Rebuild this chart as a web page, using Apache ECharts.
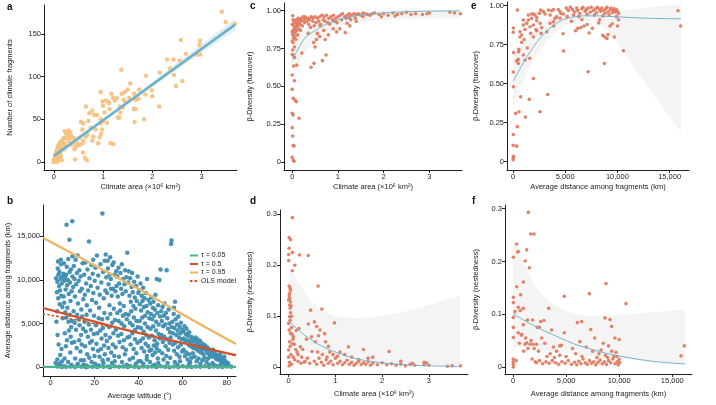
<!DOCTYPE html>
<html><head><meta charset="utf-8">
<script src="https://cdn.jsdelivr.net/npm/echarts@6/dist/echarts.min.js"></script>
<style>html,body{margin:0;padding:0;background:#fff}#c{width:716px;height:405px}</style>
</head><body><div id="c"></div>
<script>
// ---------- Panel a: climate area (x10^6 km2) vs number of climate fragments ----------
const aPoints = [[3.41,176],[3.49,164],[3.68,162],[2.97,142],[2.96,137],[2.58,143],[2.90,126],[2.97,126],[2.68,127],[2.61,95],[2.43,120],[2.55,119],[2.30,120],[2.36,110],[2.44,102],[2.48,89],[2.15,105],[2.14,65],[1.99,84],[2.0,77],[1.87,101],[1.86,79],[1.83,50],[1.66,73],[1.66,62],[1.62,62],[1.64,47],[1.73,85],[1.72,74],[1.63,80],[1.55,92],[1.50,85],[1.44,82],[1.37,108],[1.38,80],[1.42,73],[1.40,64],[1.35,58],[1.33,52],[1.28,75],[1.24,72],[1.20,75],[1.17,80],[1.12,69],[1.13,62],[1.10,71],[1.05,72],[0.95,82],[0.99,71],[1.0,66],[1.03,58],[1.08,46],[1.0,48],[0.95,50],[0.95,45],[0.98,38],[0.96,33],[0.93,29],[1.21,21],[1.30,52],[1.34,65],[1.45,70],[1.53,75],[0.88,55],[0.82,55],[0.78,60],[0.72,57],[0.65,65],[0.70,48],[0.75,40],[0.60,45],[0.55,47],[0.58,38],[0.80,30],[0.78,25],[0.65,30],[0.58,22],[0.52,20],[0.45,18],[0.42,15],[0.40,28],[0.35,31],[0.33,35],[0.30,37],[0.28,35],[0.25,33],[0.33,28],[0.30,25],[0.25,28],[0.20,28],[0.18,26],[0.15,24],[0.12,22],[0.10,20],[0.08,18],[0.07,15],[0.05,12],[0.04,10],[0.03,8],[0.02,5],[0.01,3],[0.0,2],[0.02,1],[0.05,2],[0.1,5],[0.08,8],[0.12,12],[0.15,16],[0.18,20],[0.22,22],[0.06,6],[0.03,4],[0.01,1],[0.04,3],[0.0,0],[0.14,7],[0.16,2],[0.43,3],[0.63,5],[0.67,2],[0.59,11],[0.52,28],[0.60,25],[0.68,32],[0.85,38],[0.90,22],[0.20,15],[0.25,18],[0.38,22],[0.28,30],[0.22,36],[0.35,20],[0.48,22],[0.13,10],[0.09,3],[0.11,13],[0.07,0],[1.15,22]];
const aFit = [[0,7],[3.68,161]];
const aBandX = [0,0.5,1,1.5,2,2.5,3,3.68];
const aBandLow = [3,25,47,68,88,108,128,154];
const aBandHigh = [11,31,51,72,94,116,138,168];

// ---------- Panel b: average latitude vs average distance among fragments (km) ----------
const bPoints = [
[2.5,10200],[3,9800],[3.2,11300],[3.5,10600],[3.8,9300],[4,10900],[4.2,8800],[4.5,10100],[4.7,11800],[5,9600],[5.2,10400],[2.8,8600],[3.4,7900],[4.1,7200],[4.8,8200],[5.3,6900],[2.6,5200],[3.1,3700],[3.6,2600],[4.3,1400],[4.9,2100],[2.2,500],[3,900],[3.9,400],[4.4,150],[5.1,650],[3.3,12100],[4.6,12300],[2.9,6400],[5.5,5600],
[5.8,10700],[6,11900],[6.2,9900],[6.5,10300],[6.8,8900],[7,10600],[7.2,16300],[7.3,11500],[7.5,9400],[7.8,10000],[8,12400],[8.2,8400],[8.5,14600],[8.6,10900],[8.8,9700],[9,7600],[9.2,11200],[9.5,8700],[9.8,16700],[9.9,10400],[6.1,7400],[6.6,6300],[7.1,5700],[7.6,6800],[8.1,5200],[8.7,6000],[9.3,4600],[9.7,5300],[6.4,3900],[7.4,3100],[8.3,4200],[9.1,3500],[6.9,2400],[8.9,1700],[9.6,2800],[6.3,1000],[7.9,600],[9.4,300],[5.9,8100],[9.9,12700],
[10.2,9200],[10.5,11600],[10.8,10100],[11,8100],[11.3,12300],[11.6,9500],[11.9,10800],[12.2,12800],[12.4,7300],[12.7,9900],[13,11100],[13.3,8700],[13.6,10400],[13.9,6600],[14.2,9000],[14.5,11900],[14.8,7800],[10.4,6400],[10.9,5100],[11.5,4300],[12,6000],[12.6,5500],[13.1,4800],[13.8,3700],[14.3,5800],[14.7,4400],[10.7,2900],[11.8,2200],[12.9,3100],[13.5,1800],[14.1,2600],[11.1,1000],[12.3,400],[13.7,800],[14.9,300],
[15.2,10600],[15.5,8300],[15.8,12000],[16.1,9600],[16.4,7100],[16.7,11200],[17,8800],[17.4,14400],[17.6,10200],[17.9,6500],[18.2,9300],[18.5,11700],[18.8,7700],[19.1,10700],[19.4,8500],[19.7,5900],[15.4,5200],[15.9,4100],[16.3,6000],[16.9,3500],[17.3,4900],[17.8,2800],[18.3,4300],[18.7,3000],[19.2,2100],[19.6,3800],[15.6,2400],[16.6,1500],[17.5,1100],[18.6,600],[19.9,1300],[15.1,800],[16,200],[19.3,12300],[20,9900],
[20.3,11400],[20.6,7400],[21,12800],[21.3,9100],[21.6,10500],[22,6800],[22.3,8300],[22.6,11800],[23,9700],[23.3,5500],[23.5,17600],[23.8,10900],[24.1,7900],[24.5,12200],[24.8,8800],[25,12900],[20.5,4800],[21.2,3900],[21.8,5600],[22.5,4200],[23.1,3300],[23.7,4500],[24.3,2500],[24.9,3700],[20.8,2700],[21.5,1900],[22.2,1200],[22.9,2100],[23.6,800],[24.6,1500],[20.2,400],[21.9,200],[23.9,500],[24.4,6200],[25.3,10300],
[25.6,8500],[26,11300],[26.3,9500],[26.7,7100],[27,12600],[27.3,10100],[27.7,8200],[28,11700],[28.3,9000],[28.7,6700],[29,10600],[29.4,8700],[29.8,11000],[25.8,5600],[26.5,4600],[27.1,6100],[27.9,5100],[28.5,3900],[29.2,5400],[29.6,4300],[25.5,3000],[26.2,2200],[26.9,3400],[27.5,1700],[28.2,2600],[28.9,1300],[29.5,2300],[26.1,900],[27.8,500],[29.1,700],[25.9,12200],[28.6,12000],[29.9,9300],[26.8,10600],[27.4,9000],
[30.2,10400],[30.5,8100],[30.8,11400],[31.1,9600],[31.4,7300],[31.7,10800],[32,9000],[32.3,11800],[32.6,8400],[32.9,10100],[33.2,7000],[33.5,9500],[33.8,11100],[34.1,8700],[34.4,10300],[34.8,13100],[30.3,6200],[30.9,5300],[31.6,6500],[32.2,5000],[32.8,5900],[33.4,4700],[34,6100],[34.6,5500],[30.6,3600],[31.3,2900],[32.1,3800],[32.7,2300],[33.3,3100],[34.2,2000],[34.9,3400],[31,1200],[32.4,600],[33.7,1500],[34.5,300],
[35.2,9700],[35.5,11000],[35.8,8200],[36.1,10200],[36.4,7500],[36.7,9200],[37,10800],[37.3,8600],[37.6,7000],[37.9,9800],[38.2,8000],[38.5,6700],[38.8,9300],[39.1,7600],[39.5,10400],[39.8,8500],[35.4,6000],[36,5100],[36.6,6400],[37.2,4800],[37.8,5700],[38.4,4300],[39,5300],[39.6,4600],[35.7,3500],[36.3,2600],[37.1,3900],[37.7,2100],[38.3,3200],[38.9,1600],[39.4,2800],[35.9,900],[37.4,1100],[38.7,400],[39.9,700],
[40.2,8800],[40.5,7200],[40.8,9600],[41.1,6500],[41.4,8200],[41.7,7600],[42,9100],[42.3,6900],[42.6,7900],[42.9,5900],[43.2,8500],[43.5,7000],[43.8,10100],[44.1,6300],[44.4,7700],[44.8,5600],[40.4,5300],[41,4500],[41.6,5700],[42.2,4100],[42.8,5000],[43.4,3700],[44,4600],[44.6,3400],[40.7,3000],[41.3,2200],[41.9,3300],[42.5,1800],[43.1,2700],[43.7,1300],[44.3,2400],[40.9,700],[42.1,400],[43.6,900],[44.9,1900],
[45.2,7300],[45.5,6100],[45.8,8000],[46.1,5500],[46.4,6800],[46.7,7500],[47,5900],[47.3,6600],[47.6,8300],[47.9,5200],[48.2,10100],[48.5,6200],[48.8,7100],[49.1,4900],[49.4,10000],[49.7,5800],[45.4,4400],[46,3600],[46.6,4700],[47.2,3100],[47.8,4200],[48.4,2700],[49,3800],[49.6,3300],[45.7,2000],[46.3,1400],[46.9,2500],[47.5,1700],[48.1,2200],[48.7,1000],[49.3,1900],[45.1,600],[47.1,300],[48.9,500],[49.9,11200],
[50.2,6400],[50.5,5300],[50.8,6900],[51.1,4700],[51.4,5900],[51.7,7300],[52,4900],[52.3,6200],[52.7,11100],[53,5600],[53.3,4400],[53.6,6600],[53.9,5000],[54.2,4000],[54.7,14100],[54.9,14500],[50.4,3700],[51,2900],[51.6,3500],[52.2,2400],[52.8,3200],[53.4,2000],[54,2800],[54.5,3400],[50.7,1600],[51.3,900],[52.5,1300],[53.1,500],[54.3,1100],[55,4600],
[55.3,5200],[55.6,3900],[55.9,6100],[56.2,4500],[56.5,7500],[56.8,5500],[57.1,3700],[57.4,4900],[57.7,4200],[58,5800],[58.3,3400],[58.6,4600],[58.9,3900],[59.2,5100],[59.5,3200],[59.8,4300],[55.5,2600],[56.1,1900],[56.7,2800],[57.3,1500],[57.9,2300],[58.5,1200],[59.1,2600],[59.7,1800],[56,6800],[56.4,600],[57.6,300],[58.8,700],
[60.2,4100],[60.5,3300],[60.8,4700],[61.1,2900],[61.4,3800],[61.7,4400],[62,3100],[62.3,3600],[62.6,2600],[62.9,4000],[63.2,3000],[63.5,2400],[63.8,3500],[64.1,2800],[64.4,3300],[64.8,2200],[60.4,2000],[61,1300],[61.6,1700],[62.2,900],[62.8,1500],[63.4,600],[64,1100],[64.6,1600],[63,400],
[65.2,3000],[65.5,2500],[65.8,3400],[66.1,2100],[66.4,2800],[66.7,3200],[67,1900],[67.3,2600],[67.6,2300],[67.9,3000],[68.2,1700],[68.5,2400],[68.8,2000],[69.1,2700],[69.4,1500],[69.7,2200],[65.4,1200],[66.3,700],[67.2,1000],[68,400],[68.9,800],[69.9,1100],
[70.2,2500],[70.6,1900],[71,2300],[71.4,1600],[71.8,2100],[72.2,1400],[72.6,1900],[73,1200],[73.4,1700],[73.8,2000],[74.2,1300],[74.6,1600],[75,1000],[75.4,1400],[75.8,900],[70.8,600],[72,300],[73.6,500],[74.9,200],[71.5,1000],
[76.2,1300],[76.6,900],[77,1500],[77.4,700],[77.8,1100],[78.2,600],[78.6,900],[79,400],[79.4,700],[80,300],[80.5,500],[81,200],[77.2,300],[78.9,1200],
[3,80],[5,30],[6,120],[7,50],[9,90],[11,40],[12,150],[14,60],[16,20],[17,100],[19,70],[21,30],[22,130],[24,60],[26,90],[27,20],[29,110],[31,50],[33,80],[35,30],[36,140],[38,60],[40,20],[42,100],[44,50],[46,80],[48,30],[50,120],[52,60],[54,20],[56,90],[58,40],[60,110],[62,60],[64,30],[66,80],[68,50],[70,120],[72,40],[74,90],[76,60],[78,30],[80,80],[82,50]];
const bTau05 = [[-3.5,60],[84.2,40]];
const bTau50 = [[-3.5,6780],[10,5880],[20,5220],[30,4560],[40,3920],[50,3340],[60,2780],[70,2200],[80,1630],[84.2,1400]];
const bTau95 = [[-3.5,14830],[20,11650],[40,8950],[60,6050],[84.2,2670]];
const bOLS = [[-3.5,6130],[20,5000],[40,3950],[60,2800],[84.2,1300]];

// ---------- Panel c: climate area vs beta-diversity (turnover) ----------
const cPoints = [[0.01,0.967],[0.0,0.71],[0.02,0.707],[0.05,0.69],[0.03,0.634],[0.1,0.64],[0.0,0.575],[0.05,0.537],[0.0,0.48],[0.02,0.421],[0.06,0.41],[0.09,0.398],[0.0,0.322],[0.02,0.311],[0.15,0.289],[0.0,0.227],[0.01,0.172],[0.02,0.108],[0.04,0.106],[0.0,0.031],[0.02,0.013],[0.04,0.005],
[0.0,0.86],[0.01,0.84],[0.02,0.87],[0.03,0.82],[0.0,0.80],[0.02,0.79],[0.04,0.85],[0.05,0.88],[0.06,0.83],[0.03,0.9],[0.07,0.86],[0.08,0.89],[0.1,0.91],[0.1,0.87],[0.12,0.9],[0.14,0.92],[0.15,0.88],[0.17,0.91],[0.2,0.93],[0.22,0.9],[0.25,0.94],[0.27,0.92],[0.3,0.95],[0.32,0.93],[0.35,0.95],[0.05,0.76],[0.01,0.74],[0.08,0.81],[0.12,0.84],[0.18,0.87],[0.21,0.72],[0.04,0.93],[0.06,0.92],[0.09,0.94],[0.13,0.95],[0.0,0.91],[0.02,0.94],[0.11,0.93],[0.16,0.94],[0.19,0.95],[0.24,0.96],[0.28,0.96],[0.38,0.94],[0.42,0.96],[0.45,0.95],[0.5,0.96],[0.55,0.95],[0.6,0.96],[0.65,0.97],[0.7,0.96],[0.75,0.97],[0.8,0.95],[0.85,0.96],[0.9,0.97],[0.95,0.95],[1.0,0.96],[1.05,0.97],[1.1,0.98],[1.15,0.96],[1.2,0.97],[1.25,0.98],[1.3,0.97],[1.35,0.98],[1.4,0.975],[1.45,0.98],[1.5,0.97],[1.55,0.985],[1.6,0.98],[1.65,0.975],[1.7,0.97],[1.75,0.98],[1.8,0.985],[1.9,0.975],[2.0,0.98],[2.1,0.97],[2.2,0.985],[2.3,0.975],[2.4,0.98],[2.5,0.99],[2.6,0.975],[2.7,0.98],[2.85,0.975],[2.95,0.98],[3.0,0.985],[3.45,0.99],[3.55,0.985],[3.68,0.98],[1.95,0.96],[2.25,0.965],[1.25,0.955],[1.55,0.96],[0.48,0.9],[0.52,0.92],[0.58,0.93],[0.62,0.91],[0.68,0.94],[0.72,0.93],[0.78,0.92],[0.88,0.94],[0.92,0.93],[0.98,0.92],[1.08,0.94],[1.18,0.95],[1.28,0.94],[1.38,0.95],[0.45,0.93],[0.36,0.91],[0.4,0.89],
[0.41,0.626],[0.475,0.652],[0.66,0.67],[0.74,0.707],[0.47,0.79],[0.53,0.81],[0.72,0.81],[0.79,0.84],[0.69,0.87],[0.97,0.86],[1.04,0.88],[1.16,0.855],[1.26,0.9],[1.2,0.917],[0.82,0.912],[0.61,0.9],[0.5,0.76],[0.55,0.85],[0.6,0.83],[0.9,0.88],[1.4,0.93],[0.35,0.85]];
const cFitX = [0,0.1,0.2,0.3,0.5,0.75,1,1.25,1.5,2,2.5,3,3.67];
const cFitY = [0.675,0.73,0.785,0.825,0.868,0.91,0.938,0.957,0.97,0.985,0.993,0.997,0.999];
const cBandLow = [0.59,0.64,0.69,0.73,0.79,0.845,0.885,0.91,0.925,0.94,0.945,0.948,0.95];
const cBandHigh = [0.77,0.81,0.85,0.88,0.925,0.955,0.97,0.98,0.99,1.0,1.005,1.005,1.005];

// ---------- Panel d: climate area vs beta-diversity (nestedness) ----------
const dPoints = [[0.08,0.293],[0.01,0.254],[0.04,0.25],[0.01,0.233],[0.0,0.221],[0.08,0.225],[0.23,0.22],[0.42,0.219],[0.0,0.209],[0.13,0.2],[0.08,0.189],[0.01,0.159],[0.03,0.155],[0.04,0.151],[0.63,0.159],[0.01,0.14],[0.02,0.135],[0.0,0.132],[0.02,0.122],[0.03,0.116],[0.47,0.112],[0.71,0.114],[0.04,0.107],[0.02,0.099],[0.03,0.092],[0.0,0.086],[0.98,0.087],[0.42,0.085],[0.55,0.089],[0.01,0.073],[0.04,0.067],[0.1,0.06],[0.02,0.05],[0.08,0.046],[0.03,0.041],[0.0,0.034],[0.6,0.08],[0.67,0.073],[0.77,0.066],[0.64,0.062],[0.49,0.06],[0.38,0.055],[0.57,0.05],[0.79,0.05],[0.85,0.041],[0.5,0.031],
[0.0,0.02],[0.02,0.01],[0.01,0.003],[0.05,0.025],[0.06,0.078],[0.07,0.065],[0.09,0.055],[0.12,0.045],[0.15,0.035],[0.18,0.03],[0.2,0.025],[0.1,0.02],[0.13,0.015],[0.25,0.04],[0.3,0.035],[0.28,0.02],[0.35,0.012],[0.4,0.018],[0.16,0.072],[0.22,0.076],[0.06,0.1],[0.05,0.12],[0.04,0.128],[0.02,0.145],[0.33,0.01],[0.45,0.008],[0.06,0.006],[0.2,0.012],[0.26,0.008],
[0.55,0.012],[0.6,0.006],[0.65,0.018],[0.7,0.01],[0.75,0.004],[0.8,0.015],[0.85,0.008],[0.9,0.012],[0.95,0.005],[1.0,0.018],[1.05,0.008],[1.1,0.012],[1.15,0.005],[1.2,0.009],[1.25,0.014],[1.3,0.006],[1.35,0.01],[1.4,0.004],[1.45,0.008],[1.5,0.012],[1.55,0.005],[1.6,0.009],[1.65,0.006],[1.7,0.011],[1.75,0.004],[1.8,0.008],[1.9,0.005],[2.0,0.009],[2.1,0.005],[2.2,0.007],[2.3,0.004],[2.4,0.006],[2.5,0.003],[2.6,0.006],[2.7,0.004],[2.9,0.005],[2.95,0.009],[3.0,0.004],[3.4,0.002],[3.5,0.003],[3.68,0.003],
[1.28,0.04],[1.6,0.035],[1.8,0.02],[2.15,0.031],[1.1,0.03],[1.35,0.02],[0.95,0.025],[1.05,0.022],[1.2,0.025],[0.88,0.03],[2.9,0.01],[2.4,0.012],[1.7,0.018],[1.5,0.015],[0.72,0.025],[0.82,0.02],[0.62,0.03],[2.65,0.008]];
const dFitX = [0,0.25,0.5,0.75,1,1.5,2,2.5,3,3.67];
const dFitY = [0.091,0.07,0.053,0.04,0.03,0.016,0.009,0.005,0.003,0.0015];
const dBandLow = [0.045,0.036,0.028,0.021,0.016,0.01,0.007,0.005,0.004,0.003];
const dBandHigh = [0.198,0.16,0.128,0.109,0.1,0.096,0.1,0.11,0.122,0.14];

// ---------- Panel e: average distance (km) vs beta-diversity (turnover) ----------
const ePoints = [[20,0.012],[30,0.025],[40,0.035],[20,0.105],[30,0.175],[40,0.48],[20,0.575],[60,0.70],[20,0.83],[30,0.857],[350,0.10],[415,0.225],[255,0.31],[575,0.32],[1180,0.286],[735,0.416],[1560,0.40],[2590,0.32],[3320,0.431],[1950,0.534],[350,0.645],[510,0.656],[510,0.63],[560,0.72],[540,0.705],[1150,0.652],[1600,0.663],[990,0.684],[1370,0.729],[830,0.765],[670,0.80],[1060,0.783],[415,0.972],
[990,0.876],[1310,0.887],[1470,0.908],[1790,0.919],[1950,0.947],[2110,0.94],[2270,0.904],[2590,0.887],[2650,0.972],[2910,0.962],[3070,0.947],[3390,0.972],[3550,0.94],[3710,0.968],[3870,0.976],[4190,0.929],[4340,0.976],[4500,0.962],[4600,0.951],[4820,0.947],[670,0.833],[830,0.812],[1150,0.848],[1630,0.865],[1690,0.823],[1950,0.876],[2200,0.848],[1950,0.80],[2270,0.84],[2750,0.86],[2680,0.823],[3230,0.833],[3550,0.887],[3870,0.897],[4020,0.919],[1470,0.94],[1790,0.947],[2270,0.925],[2520,0.951],[990,0.908],
[5100,0.985],[5300,0.97],[5500,0.99],[5700,0.975],[5900,0.96],[6100,0.985],[6200,0.97],[6400,0.95],[6600,0.98],[6700,0.99],[6900,0.965],[7000,0.975],[7200,0.985],[7400,0.96],[7500,0.99],[7700,0.97],[7900,0.98],[8000,0.955],[8100,0.99],[8300,0.975],[8400,0.965],[8500,0.985],[8700,0.97],[8800,0.95],[8900,0.98],[9000,0.99],[9100,0.96],[9300,0.975],[9400,0.985],[9500,0.955],[9600,0.97],[9700,0.98],[9800,0.96],[9900,0.975],[10000,0.965],[10100,0.95],[5800,0.94],[6300,0.93],[7100,0.945],[7800,0.94],[8600,0.935],[9200,0.94],[9900,0.93],
[5600,0.90],[6000,0.84],[6200,0.855],[6500,0.86],[6800,0.87],[7100,0.88],[7300,0.825],[7600,0.855],[8200,0.89],[8600,0.81],[8800,0.80],[9000,0.79],[9100,0.815],[9300,0.87],[9500,0.885],[9700,0.80],[10000,0.87],[10100,0.91],[4800,0.82],[4850,0.71],[6600,0.91],[7200,0.577],[8750,0.63],[10570,0.711],[15800,0.968],[16060,0.87],[8300,0.91],[5200,0.93],[4500,0.92],[3900,0.87]];
const eFitX = [0,500,1000,1500,2000,2500,3000,3500,4000,4500,5000,6000,7000,8000,9000,10000,12000,14000,16100];
const eFitY = [0.515,0.575,0.635,0.69,0.74,0.785,0.823,0.855,0.88,0.9,0.915,0.93,0.935,0.935,0.932,0.929,0.922,0.918,0.916];
const eBandX = [0,1000,2000,3000,4000,5000,6000,7000,8000,9000,10000,11000,12000,13000,14000,15000,16100];
const eBandLow = [0.34,0.52,0.66,0.75,0.83,0.87,0.9,0.905,0.895,0.85,0.76,0.665,0.565,0.47,0.38,0.29,0.19];
const eBandHigh = [0.68,0.76,0.84,0.9,0.94,0.955,0.96,0.96,0.96,0.962,0.965,0.972,0.982,0.99,0.997,1.003,1.01];

// ---------- Panel f: average distance (km) vs beta-diversity (nestedness) ----------
const fPoints = [[1440,0.293],[1670,0.252],[1980,0.252],[350,0.233],[500,0.219],[440,0.218],[1290,0.222],[30,0.208],[1150,0.201],[1540,0.188],[970,0.161],[350,0.152],[725,0.137],[30,0.132],[30,0.122],[190,0.105],[500,0.113],[970,0.111],[690,0.107],[1370,0.089],[1850,0.089],[30,0.094],[30,0.075],[970,0.08],[2600,0.086],[2910,0.088],[3360,0.111],[4830,0.134],[30,0.056],[500,0.065],[820,0.062],[1150,0.043],[1290,0.046],[1600,0.043],[1900,0.043],[2220,0.043],[2290,0.075],[2480,0.075],[3640,0.07],[4560,0.041],[4830,0.065],[6060,0.084],[6470,0.086],[7190,0.139],[7320,0.071],[8760,0.158],[8660,0.093],[9130,0.09],[9290,0.077],[10640,0.12],[15820,0.021],[16130,0.04],
[20,0.01],[30,0.005],[20,0.015],[40,0.0],[300,0.012],[600,0.045],[800,0.06],[1000,0.03],[1200,0.055],[1400,0.035],[1700,0.05],[2000,0.035],[2400,0.03],[2700,0.055],[3000,0.045],[3200,0.02],[3500,0.025],[3800,0.038],[4100,0.03],[4400,0.022],[1800,0.015],[2100,0.01],
[2200,0.008],[2500,0.012],[2800,0.006],[3100,0.01],[3400,0.007],[3700,0.012],[4000,0.008],[4300,0.005],[4600,0.01],[4900,0.007],[5200,0.012],[5500,0.005],[5800,0.009],[6000,0.004],[6200,0.011],[6400,0.006],[6600,0.015],[6800,0.008],[7000,0.005],[7200,0.012],[7400,0.007],[7600,0.01],[7800,0.004],[8000,0.009],[8200,0.013],[8400,0.006],[8600,0.01],[8800,0.005],[9000,0.012],[9200,0.008],[9400,0.015],[9600,0.006],[9800,0.01],[10000,0.014],[9900,0.004],[8900,0.018],[9500,0.02],[7900,0.018],[6500,0.02],[5600,0.035],[6300,0.048],[6900,0.038],[7500,0.03],[7700,0.055],[8100,0.025],[8500,0.045],[8300,0.032],[9000,0.04],[9700,0.028],[9600,0.055],[10000,0.052],[5900,0.025],[5000,0.02],[4400,0.04],[3900,0.018],[8700,0.022],[9300,0.03],[9800,0.02],[10050,0.008]];
const fFitX = [0,1000,2000,3000,4000,5000,6000,7000,8000,9000,10000,12000,14000,16200];
const fFitY = [0.101,0.089,0.078,0.068,0.059,0.05,0.042,0.036,0.03,0.025,0.021,0.014,0.009,0.006];
const fBandLow = [0.038,0.036,0.034,0.031,0.029,0.026,0.024,0.021,0.019,0.017,0.016,0.012,0.008,0.005];
const fBandHigh = [0.245,0.195,0.157,0.132,0.116,0.106,0.1,0.097,0.096,0.097,0.099,0.102,0.105,0.109];

// ---------- Tick labels ----------
const aXTicks = [0,1,2,3], aYTicks = [0,50,100,150];
const bXTicks = [0,20,40,60,80], bYTicks = [0,5000,10000,15000];
const cXTicks = [0,1,2,3], cYTicks = [0,0.25,0.5,0.75,1];
const dXTicks = [0,1,2,3], dYTicks = [0,0.1,0.2,0.3];
const eXTicks = [0,5000,10000,15000], eYTicks = [0,0.25,0.5,0.75,1];
const fXTicks = [0,5000,10000,15000], fYTicks = [0,0.1,0.2,0.3];

const FONT = '"Liberation Sans", Arial, Helvetica, sans-serif';
const AX = '#222';
const fmtInt = v => Math.round(v).toLocaleString('en-US');
const fmt2 = v => v === 0 ? '0' : v.toFixed(2);
const fmt1 = v => v === 0 ? '0' : v.toFixed(1);

function axis(isY, g, min, max, ticks, fmt, name, gap) {
  return {
    type: 'value', gridIndex: g, min, max, name, nameLocation: 'middle', nameGap: gap,
    nameRotate: isY ? 90 : 0,
    nameTextStyle: {fontSize: 7.5, color: AX, fontFamily: FONT},
    axisLine: {show: true, onZero: false, lineStyle: {color: AX, width: 1}},
    axisTick: {show: true, length: 3, inside: false, customValues: ticks, lineStyle: {color: AX, width: 1}},
    axisLabel: {show: true, customValues: ticks, formatter: fmt, fontSize: 7.5, color: AX, margin: 3, fontFamily: FONT},
    splitLine: {show: false}
  };
}
const zip = (xs, ys) => xs.map((x, i) => [x, ys[i]]);
// confidence band: a polygon through the library's coordinate system
function band(g, xs, lo, hi, color) {
  return {
    type: 'custom', coordinateSystem: 'cartesian2d', xAxisIndex: g, yAxisIndex: g, clip: true, silent: true, z: 1,
    data: [[xs[0], lo[0]]],
    renderItem: (params, api) => {
      const top = xs.map((x, i) => api.coord([x, hi[i]]));
      const bot = xs.map((x, i) => api.coord([x, lo[i]])).reverse();
      return {type: 'polygon', shape: {points: top.concat(bot)}, style: {fill: color}};
    }
  };
}
function scatter(g, data, size, color) {
  return {type: 'scatter', xAxisIndex: g, yAxisIndex: g, data, symbolSize: size, itemStyle: {color, opacity: 0.95}, silent: true, z: 2};
}
function fit(g, data, color, width, name, dash) {
  return {type: 'line', name, xAxisIndex: g, yAxisIndex: g, data, symbol: 'none', showSymbol: false, smooth: true,
    lineStyle: {color, width, type: dash || 'solid'}, itemStyle: {color}, silent: true, z: 3};
}

const PT = '#e07c61', BLUE = '#72b3cc', BAND = '#f4f4f4';
const grids = [
  {left: 44, top: 5, width: 193, height: 165},
  {left: 43, top: 205, width: 193, height: 171},
  {left: 284, top: 3, width: 178, height: 167},
  {left: 280, top: 210, width: 188, height: 164},
  {left: 507, top: 2, width: 182, height: 168},
  {left: 505, top: 205, width: 187, height: 169}
].map(g => Object.assign({containLabel: false, outerBoundsMode: 'none', show: false}, g));

const areaName = 'Climate area (×10⁶ km²)';
const distName = 'Average distance among fragments (km)';
const option = {
  animation: false,
  backgroundColor: '#fff',
  grid: grids,
  xAxis: [
    axis(false, 0, -0.2, 3.72, aXTicks, fmtInt, areaName, 12.5),
    axis(false, 1, -3.5, 84.2, bXTicks, fmtInt, 'Average latitude (°)', 15.5),
    axis(false, 2, -0.18, 3.715, cXTicks, fmtInt, areaName, 13),
    axis(false, 3, -0.186, 3.84, dXTicks, fmtInt, areaName, 16),
    axis(false, 4, -575, 16858, eXTicks, fmtInt, distName, 13),
    axis(false, 5, -753, 16855, fXTicks, fmtInt, distName, 16)
  ],
  yAxis: [
    axis(true, 0, -9.4, 184, aYTicks, fmtInt, 'Number of climate fragments', 30),
    axis(true, 1, -995, 18570, bYTicks, fmtInt, 'Average distance among fragments (km)', 31),
    axis(true, 2, -0.053, 1.051, cYTicks, fmt2, 'β-Diversity (turnover)', 30),
    axis(true, 3, -0.013, 0.308, dYTicks, fmt1, 'β-Diversity (nestedness)', 26),
    axis(true, 4, -0.053, 1.024, eYTicks, fmt2, 'β-Diversity (turnover)', 27),
    axis(true, 5, -0.0133, 0.307, fYTicks, fmt1, 'β-Diversity (nestedness)', 25)
  ],
  legend: {
    data: ['τ = 0.05', 'τ = 0.5', 'τ = 0.95', 'OLS model'],
    orient: 'vertical', left: 189, top: 252, padding: 0, itemGap: 1.5,
    itemWidth: 8, itemHeight: 5, selectedMode: false,
    itemStyle: {opacity: 0},
    textStyle: {fontSize: 7, color: AX, fontFamily: FONT, padding: [0, 0, 0, -2]}
  },
  graphic: [
    ['a', 7, 2], ['b', 7, 196], ['c', 250, 1], ['d', 250, 196], ['e', 471, 1], ['f', 472, 196]
  ].map(([t, x, y]) => ({type: 'text', left: x, top: y, style: {text: t, font: 'bold 10px ' + FONT, fill: '#111'}})),
  series: [
    band(0, aBandX, aBandLow, aBandHigh, '#e2eef3'),
    scatter(0, aPoints, 4.5, '#f6c281'),
    fit(0, aFit, '#6cb0ca', 2.5),

    scatter(1, bPoints, 4.5, '#3d8db0'),
    fit(1, bTau95, '#f0b460', 2.2, 'τ = 0.95'),
    fit(1, bTau50, '#d3512c', 2.2, 'τ = 0.5'),
    fit(1, bOLS, '#d3512c', 1.6, 'OLS model', [2.5, 2]),
    fit(1, bTau05, '#4db38b', 2.2, 'τ = 0.05'),

    band(2, cFitX, cBandLow, cBandHigh, BAND),
    scatter(2, cPoints, 3.6, PT),
    fit(2, zip(cFitX, cFitY), BLUE, 1),

    band(3, dFitX, dBandLow, dBandHigh, BAND),
    scatter(3, dPoints, 3.6, PT),
    fit(3, zip(dFitX, dFitY), BLUE, 1),

    band(4, eBandX, eBandLow, eBandHigh, BAND),
    scatter(4, ePoints, 3.6, PT),
    fit(4, zip(eFitX, eFitY), BLUE, 1),

    band(5, fFitX, fBandLow, fBandHigh, BAND),
    scatter(5, fPoints, 3.6, PT),
    fit(5, zip(fFitX, fFitY), BLUE, 1)
  ]
};
const chart = echarts.init(document.getElementById('c'), null, {renderer: 'canvas'});
chart.setOption(option);
</script>
</body></html>
